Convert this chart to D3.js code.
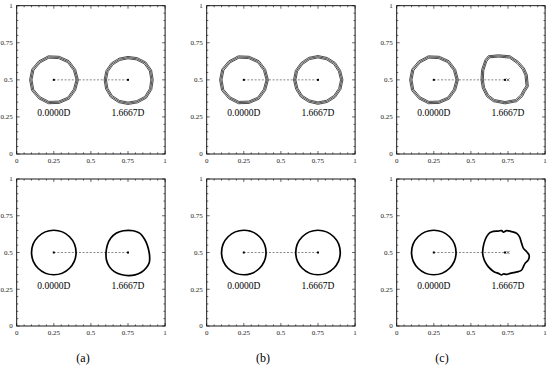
<!DOCTYPE html>
<html>
<head>
<meta charset="utf-8">
<script src="https://cdn.jsdelivr.net/npm/d3@7"></script>
<style>
  html, body { margin: 0; padding: 0; background: #fff; }
  svg { display: block; }
</style>
</head>
<body>
<svg id="chart" width="550" height="367"></svg>
<script>
// ---------------- data ----------------
const panelNames = ["(a)", "(b)", "(c)"];
const tickValues = [0, 0.25, 0.5, 0.75, 1];
const tickLabels = ["0", "0.25", "0.5", "0.75", "1"];
const minorTickValues = d3.range(0, 21).map(i => i / 20);
const bubbleLabels = ["0.0000D", "1.6667D"];
const labelY = 0.275;

const startCenter = [0.25, 0.5];
const endCenters = [[0.75, 0.5], [0.75, 0.5], [0.73, 0.5]];
const crossMarkers = [null, null, [0.75, 0.5]];
const circleRadius = 0.15;

// contour rings of the top row (outer ring, offsets inward)
const ringOffsets = [0, -0.008, -0.016];
const leftRingRadii = [0.166, 0.163, 0.165, 0.163, 0.166, 0.163, 0.165, 0.163, 0.166, 0.163, 0.165, 0.163, 0.166, 0.163];
const rightRingRadiiA = [0.170, 0.172, 0.170, 0.162, 0.158, 0.158, 0.160, 0.161, 0.161, 0.163, 0.166, 0.166, 0.166, 0.168, 0.175, 0.173];
const rightRingRadiiB = [0.168, 0.165, 0.165, 0.163, 0.164, 0.164, 0.163, 0.165, 0.165, 0.163, 0.165, 0.163, 0.165, 0.165, 0.166, 0.167];
const rightRingPointsC = [
  [0.568, 0.500], [0.572, 0.568], [0.595, 0.635], [0.617, 0.662], [0.685, 0.669],
  [0.764, 0.662], [0.820, 0.624], [0.860, 0.579], [0.880, 0.534], [0.887, 0.455],
  [0.865, 0.421], [0.847, 0.387], [0.809, 0.353], [0.730, 0.338], [0.651, 0.353],
  [0.606, 0.387], [0.577, 0.444]
];

// interfaces of the bottom row
const bottomRightA = [
  [0.719, 0.648], [0.786, 0.648], [0.828, 0.632], [0.852, 0.606], [0.872, 0.570],
  [0.888, 0.522], [0.896, 0.470], [0.893, 0.430], [0.872, 0.395], [0.840, 0.366],
  [0.798, 0.348], [0.753, 0.343], [0.703, 0.350], [0.658, 0.370], [0.624, 0.404],
  [0.605, 0.449], [0.602, 0.499], [0.611, 0.551], [0.633, 0.597], [0.670, 0.631]
];
const bottomRightC = [
  [0.579, 0.499], [0.588, 0.562], [0.606, 0.608], [0.628, 0.635], [0.651, 0.644],
  [0.685, 0.646], [0.707, 0.649], [0.718, 0.639], [0.741, 0.649], [0.775, 0.642],
  [0.809, 0.630], [0.827, 0.608], [0.842, 0.562], [0.854, 0.528], [0.876, 0.505],
  [0.892, 0.483], [0.887, 0.449], [0.865, 0.426], [0.854, 0.404], [0.842, 0.381],
  [0.820, 0.370], [0.786, 0.363], [0.764, 0.358], [0.741, 0.351], [0.718, 0.354],
  [0.707, 0.347], [0.685, 0.358], [0.662, 0.365], [0.640, 0.381], [0.617, 0.404],
  [0.595, 0.438], [0.583, 0.472]
];

// ---------------- layout ----------------
const svg = d3.select("#chart");
const panelX = [16.7, 206.7, 396.7];
const rowY = [5.7, 179];
const rowH = [148.3, 147];
const plotW = 148.4;
const subLabelX = [83, 263, 442];
const serif = "'Liberation Serif', 'DejaVu Serif', serif";

function polar(center, radii, off) {
  const n = radii.length;
  return radii.map((r, i) => [center[0] + (r + off) * Math.cos(2 * Math.PI * i / n),
                              center[1] + (r + off) * Math.sin(2 * Math.PI * i / n)]);
}
function shrink(points, center, off) {
  return points.map(p => {
    const dx = p[0] - center[0], dy = p[1] - center[1];
    const d = Math.hypot(dx, dy);
    const k = (d + off) / d;
    return [center[0] + dx * k, center[1] + dy * k];
  });
}

function drawPanel(col, row) {
  const x0 = panelX[col], y0 = rowY[row], h = rowH[row];
  const x = d3.scaleLinear().domain([0, 1]).range([0, plotW]);
  const y = d3.scaleLinear().domain([0, 1]).range([h, 0]);
  const g = svg.append("g").attr("transform", `translate(${x0},${y0})`);

  // minor + major ticks on all four sides (inward)
  const tickG = g.append("g").attr("stroke", "#000").attr("stroke-width", 0.6);
  minorTickValues.forEach(v => {
    const major = tickValues.some(t => Math.abs(t - v) < 1e-9);
    const L = major ? 3 : 1.6;
    tickG.append("line").attr("x1", x(v)).attr("x2", x(v)).attr("y1", h).attr("y2", h - L);
    tickG.append("line").attr("x1", x(v)).attr("x2", x(v)).attr("y1", 0).attr("y2", L);
    tickG.append("line").attr("y1", y(v)).attr("y2", y(v)).attr("x1", 0).attr("x2", L);
    tickG.append("line").attr("y1", y(v)).attr("y2", y(v)).attr("x1", plotW).attr("x2", plotW - L);
  });

  // frame
  g.append("rect").attr("x", 0).attr("y", 0).attr("width", plotW).attr("height", h)
    .attr("fill", "none").attr("stroke", "#000").attr("stroke-width", 0.9);

  // tick labels
  tickValues.forEach((v, i) => {
    g.append("text").attr("x", x(v)).attr("y", h + 9)
      .attr("text-anchor", "middle").attr("font-family", serif).attr("font-size", 7)
      .attr("fill", "#222").text(tickLabels[i]);
    g.append("text").attr("x", -4).attr("y", y(v) + 2.4)
      .attr("text-anchor", "end").attr("font-family", serif).attr("font-size", 7)
      .attr("fill", "#222").text(tickLabels[i]);
  });

  const end = endCenters[col];

  // dashed connection line
  g.append("line").attr("x1", x(startCenter[0])).attr("y1", y(startCenter[1]))
    .attr("x2", x(end[0])).attr("y2", y(end[1]))
    .attr("stroke", "#555").attr("stroke-width", 0.7).attr("stroke-dasharray", "2,1.6");

  const line = d3.line().x(d => x(d[0])).y(d => y(d[1]));

  if (row === 0) {
    const lin = line.curve(d3.curveLinearClosed);
    const rightSets = [
      off => polar(end, rightRingRadiiA, off),
      off => polar(end, rightRingRadiiB, off),
      off => shrink(rightRingPointsC, end, off)
    ];
    ringOffsets.forEach(off => {
      g.append("path").attr("d", lin(polar(startCenter, leftRingRadii, off)))
        .attr("fill", "none").attr("stroke", "#222").attr("stroke-width", 0.8);
      g.append("path").attr("d", lin(rightSets[col](off)))
        .attr("fill", "none").attr("stroke", "#222").attr("stroke-width", 0.8);
    });
  } else {
    g.append("circle").attr("cx", x(startCenter[0])).attr("cy", y(startCenter[1]))
      .attr("r", x(circleRadius)).attr("fill", "none").attr("stroke", "#000").attr("stroke-width", 1.7);
    const smooth = line.curve(d3.curveCatmullRomClosed.alpha(0.5));
    if (col === 0) {
      g.append("path").attr("d", smooth(bottomRightA)).attr("fill", "none")
        .attr("stroke", "#000").attr("stroke-width", 1.7);
    } else if (col === 1) {
      g.append("circle").attr("cx", x(end[0])).attr("cy", y(end[1]))
        .attr("r", x(circleRadius)).attr("fill", "none").attr("stroke", "#000").attr("stroke-width", 1.7);
    } else {
      g.append("path").attr("d", smooth(bottomRightC)).attr("fill", "none")
        .attr("stroke", "#000").attr("stroke-width", 1.7);
    }
  }

  // centre markers
  [startCenter, end].forEach(c => {
    g.append("rect").attr("x", x(c[0]) - 1).attr("y", y(c[1]) - 1)
      .attr("width", 2).attr("height", 2).attr("fill", "#000");
  });
  const cm = crossMarkers[col];
  if (cm) {
    const cx = x(cm[0]), cy = y(cm[1]);
    g.append("path").attr("d", `M${cx - 1.4},${cy - 1.4}L${cx + 1.4},${cy + 1.4}M${cx - 1.4},${cy + 1.4}L${cx + 1.4},${cy - 1.4}`)
      .attr("stroke", "#000").attr("stroke-width", 0.6);
  }

  // time labels
  [0.25, 0.75].forEach((cx, i) => {
    g.append("text").attr("x", x(cx)).attr("y", y(labelY) + 3.2)
      .attr("text-anchor", "middle").attr("font-family", serif).attr("font-size", 9.5)
      .attr("fill", "#000").text(bubbleLabels[i]);
  });
}

for (let r = 0; r < 2; r++) for (let c = 0; c < 3; c++) drawPanel(c, r);

panelNames.forEach((name, i) => {
  svg.append("text").attr("x", subLabelX[i]).attr("y", 362)
    .attr("text-anchor", "middle").attr("font-family", serif).attr("font-size", 12)
    .attr("fill", "#000").text(name);
});
</script>
</body>
</html>
